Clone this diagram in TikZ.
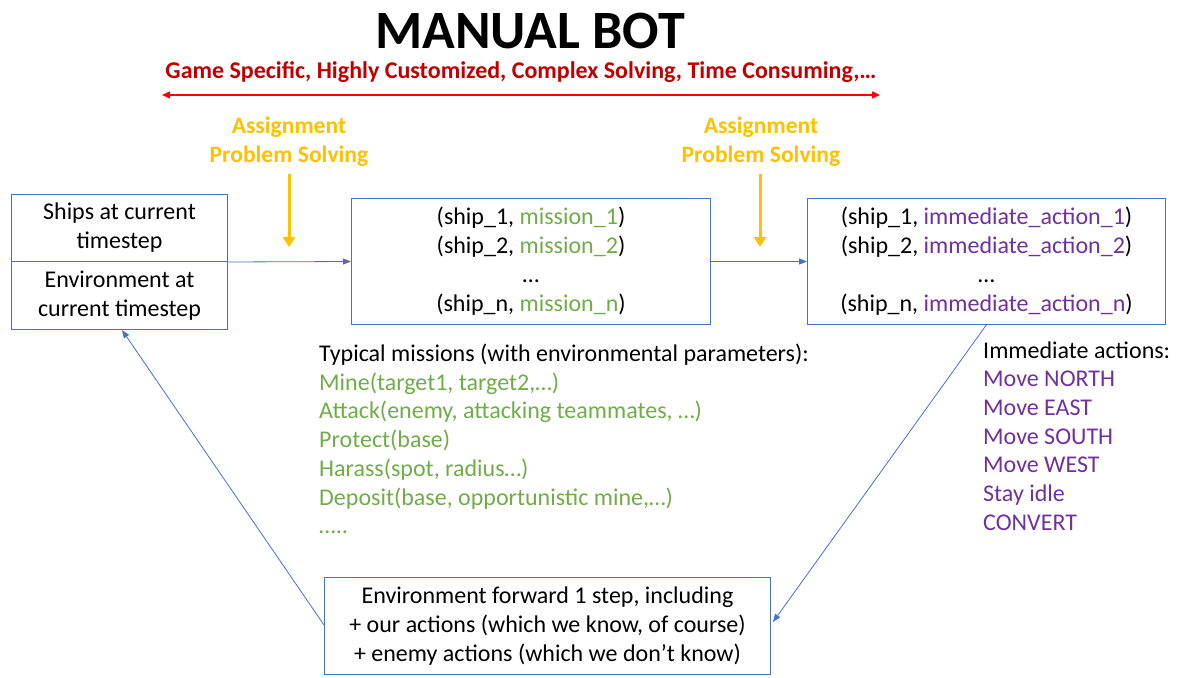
\documentclass[tikz,border=0pt]{standalone}
\usepackage{fontspec}
\setmainfont{Carlito}
\usetikzlibrary{arrows.meta}
\definecolor{bluel}{HTML}{4472C4}
\definecolor{greenm}{HTML}{70AD47}
\definecolor{purplea}{HTML}{7030A0}
\definecolor{orangea}{HTML}{FFC000}
\definecolor{darkred}{HTML}{C00000}
\definecolor{redarrow}{HTML}{FF0000}
\tikzset{
  body/.style={font=\fontsize{24}{29}\selectfont, align=center, inner sep=0pt},
  boxr/.style={draw=bluel, line width=1pt, inner sep=0pt},
  flow/.style={draw=bluel, line width=0.8pt, -{Triangle[length=8pt,width=6pt]}},
  orangearr/.style={draw=orangea, line width=3pt, -{Triangle[length=10pt,width=12pt]}},
  orangetxt/.style={font=\fontsize{23.6}{29}\selectfont\bfseries, text=orangea, align=center, inner sep=0pt},
  listtxt/.style={font=\fontsize{24}{28.7}\selectfont, align=left, inner sep=0pt},
}
\begin{document}
\begin{tikzpicture}[x=1pt,y=-1pt]
\useasboundingbox (0,0) rectangle (1177,677);
% title
\node[font=\fontsize{54}{60}\selectfont\bfseries, inner sep=0pt] (title) at (530,31) {MANUAL BOT};
\node[font=\fontsize{24}{28}\selectfont\bfseries, text=darkred, inner sep=0pt] (sub) at (521,72) {Game Specific, Highly Customized, Complex Solving, Time Consuming,…};
\coordinate (rl) at (162,95);
\coordinate (rr) at (880,95);
\draw[draw=redarrow, line width=1.5pt, {Triangle[length=8pt,width=7pt]}-{Triangle[length=8pt,width=7pt]}] (rl) -- (rr);
% orange labels
\node[orangetxt] (ap1) at (289,142) {Assignment\\Problem Solving};
\node[orangetxt] (ap2) at (761,142) {Assignment\\Problem Solving};
\coordinate (o1s) at (289,174);
\coordinate (o1e) at (289,247);
\coordinate (o2s) at (760,174);
\coordinate (o2e) at (760,247);
\draw[orangearr] (o1s) -- (o1e);
\draw[orangearr] (o2s) -- (o2e);
% box1
\node[boxr, body, minimum width=216pt, minimum height=67pt, anchor=north west] (b1t) at (11,194) {Ships at current\\timestep};
\node[boxr, body, minimum width=216pt, minimum height=68pt, anchor=north west] (b1b) at (11,261) {Environment at\\current timestep};
% box2
\node[boxr, body, minimum width=359pt, minimum height=126pt, anchor=north west] (b2) at (351,198) {(ship\_1, \textcolor{greenm}{mission\_1})\\(ship\_2, \textcolor{greenm}{mission\_2})\\…\\(ship\_n, \textcolor{greenm}{mission\_n})};
% box3
\node[boxr, body, minimum width=358pt, minimum height=126pt, anchor=north west] (b3) at (807,198) {(ship\_1, \textcolor{purplea}{immediate\_action\_1})\\(ship\_2, \textcolor{purplea}{immediate\_action\_2})\\…\\(ship\_n, \textcolor{purplea}{immediate\_action\_n})};
% box4
\node[boxr, body, minimum width=446pt, minimum height=97pt, anchor=north west] (b4) at (324,577) {Environment forward 1 step, including\\+ our actions (which we know, of course)\\+ enemy actions (which we don’t know)};
% lists
\node[listtxt, anchor=west] (missions) at (319,439) {Typical missions (with environmental parameters):\\\textcolor{greenm}{Mine(target1, target2,…)}\\\textcolor{greenm}{Attack(enemy, attacking teammates, …)}\\\textcolor{greenm}{Protect(base)}\\\textcolor{greenm}{Harass(spot, radius…)}\\\textcolor{greenm}{Deposit(base, opportunistic mine,…)}\\\textcolor{greenm}{…..}};
\node[listtxt, anchor=west] (actions) at (983,436) {Immediate actions:\\\textcolor{purplea}{Move NORTH}\\\textcolor{purplea}{Move EAST}\\\textcolor{purplea}{Move SOUTH}\\\textcolor{purplea}{Move WEST}\\\textcolor{purplea}{Stay idle}\\\textcolor{purplea}{CONVERT}};
% connectors
\draw[flow] (b1t.south east) -- (b2.west);
\draw[flow] (b2.east) -- (b3.west);
\coordinate (b3s) at (987,324);
\coordinate (b4e) at (773,622);
\draw[flow] (b3s) -- (b4e);
\coordinate (b4w) at (324,625);
\coordinate (b1s) at (122,330);
\draw[flow] (b4w) -- (b1s);
\end{tikzpicture}
\end{document}
